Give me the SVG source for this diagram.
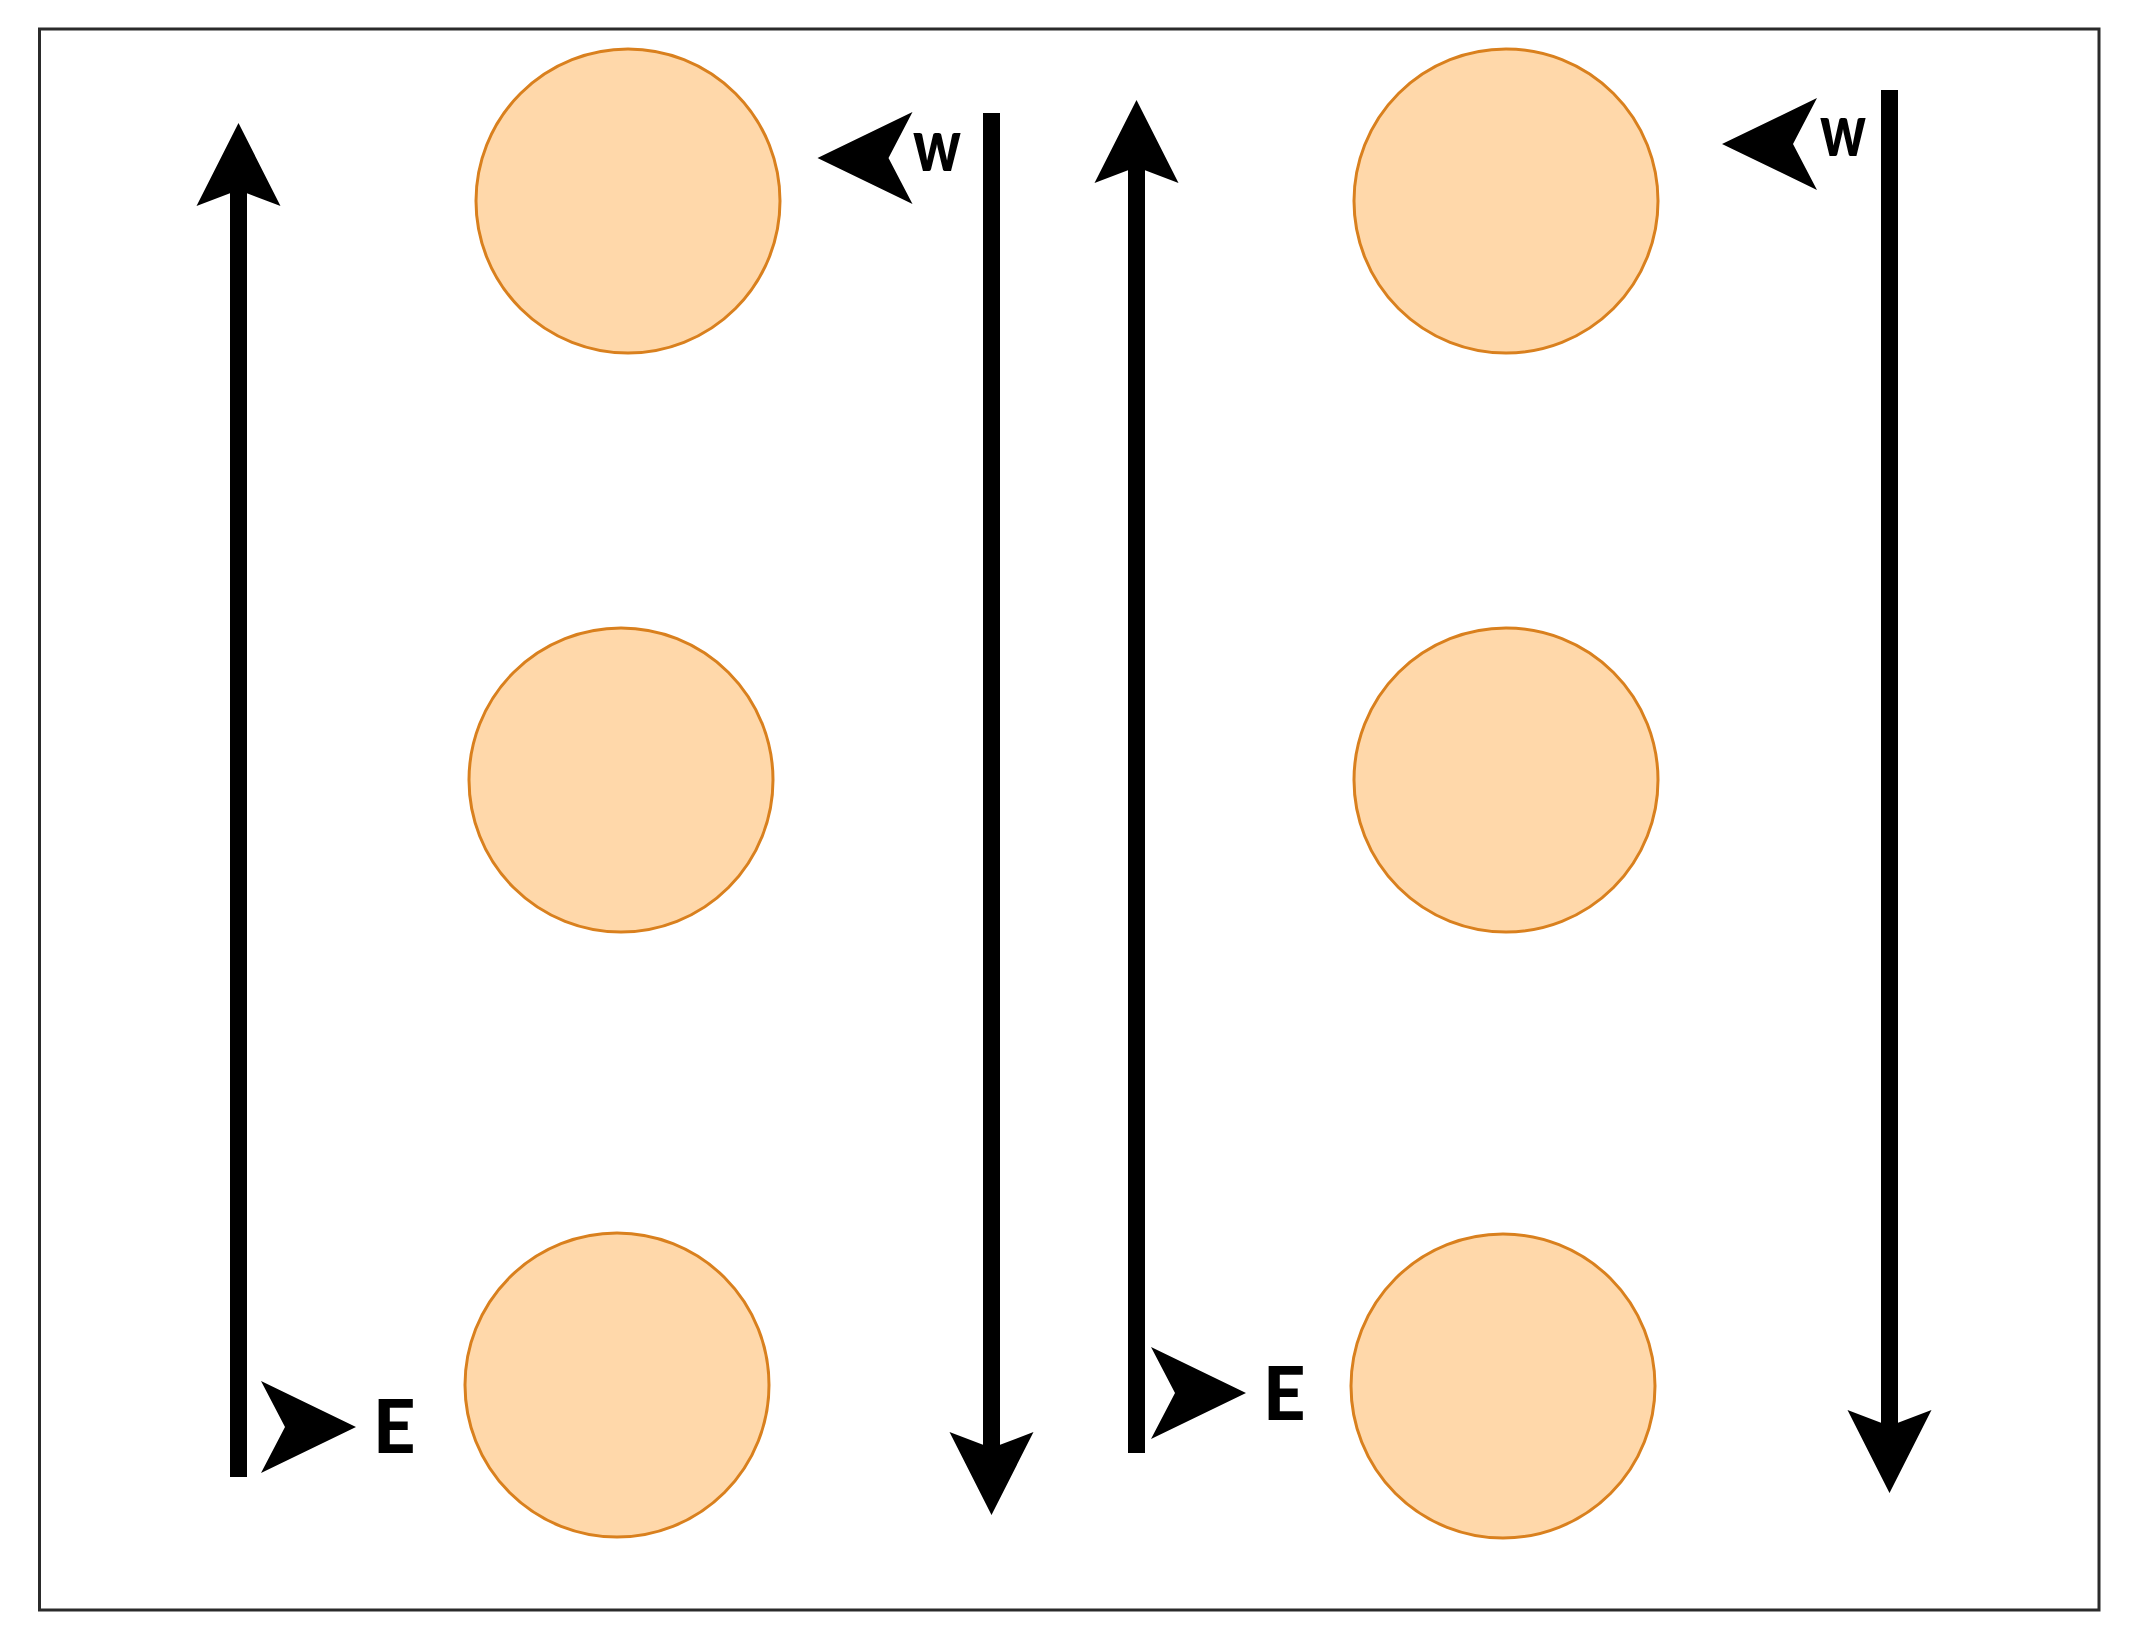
<svg xmlns="http://www.w3.org/2000/svg" width="2137" height="1647" viewBox="0 0 2137 1647">
  <style>
    .frame { fill: #ffffff; stroke: #2b2b2b; stroke-width: 3; }
    .node { fill: #FFD8AA; stroke: #D9801E; stroke-width: 3; }
    .shaft { stroke: #000000; stroke-width: 17; fill: none; }
    .head { fill: #000000; }
    .lbl { font-family: Lato, "Open Sans", "DejaVu Sans", sans-serif; font-weight: 900; font-size: 74px; fill: #000000; }
  </style>
  <defs>
    <path id="headUp" d="M0,0 L42,83 L0,67 L-42,83 Z"/>
    <path id="pointerLeft" d="M0,0 L95,-46 L71,0 L95,46 Z"/>
  </defs>
  <rect class="frame" x="39.5" y="29" width="2059.5" height="1581"/>

  <g id="circle-1"><circle class="node" cx="628" cy="201" r="152"/></g>
  <g id="circle-2"><circle class="node" cx="621" cy="780" r="152"/></g>
  <g id="circle-3"><circle class="node" cx="617" cy="1385" r="152"/></g>
  <g id="circle-4"><circle class="node" cx="1506" cy="201" r="152"/></g>
  <g id="circle-5"><circle class="node" cx="1506" cy="780" r="152"/></g>
  <g id="circle-6"><circle class="node" cx="1503" cy="1386" r="152"/></g>

  <g id="connectors">
    <line class="shaft" x1="238.5" y1="1477" x2="238.5" y2="185"/>
    <use href="#headUp" class="head" transform="translate(238.5,123)"/>
    <line class="shaft" x1="991.5" y1="113" x2="991.5" y2="1452"/>
    <use href="#headUp" class="head" transform="translate(991.5,1515) rotate(180)"/>
    <line class="shaft" x1="1136.5" y1="1453" x2="1136.5" y2="162"/>
    <use href="#headUp" class="head" transform="translate(1136.5,100)"/>
    <line class="shaft" x1="1889.5" y1="90" x2="1889.5" y2="1430"/>
    <use href="#headUp" class="head" transform="translate(1889.5,1493) rotate(180)"/>
  </g>

  <g id="label-w-1">
    <use href="#pointerLeft" class="head" transform="translate(817.5,158)"/>
    <text class="lbl" x="913" y="171" textLength="48" lengthAdjust="spacingAndGlyphs">w</text>
  </g>
  <g id="label-e-1">
    <use href="#pointerLeft" class="head" transform="translate(356,1427) scale(-1,1)"/>
    <text class="lbl" x="373" y="1453">E</text>
  </g>
  <g id="label-w-2">
    <use href="#pointerLeft" class="head" transform="translate(1722,144)"/>
    <text class="lbl" x="1820" y="156" textLength="46" lengthAdjust="spacingAndGlyphs">w</text>
  </g>
  <g id="label-e-2">
    <use href="#pointerLeft" class="head" transform="translate(1246,1393) scale(-1,1)"/>
    <text class="lbl" x="1263" y="1420">E</text>
  </g>
</svg>
